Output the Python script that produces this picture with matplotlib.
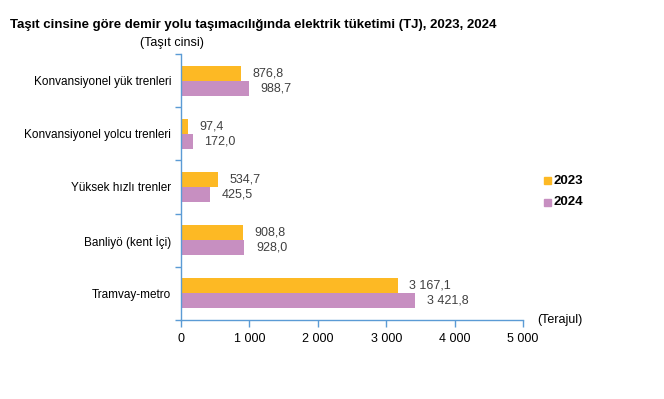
import matplotlib
matplotlib.use("Agg")
import matplotlib.pyplot as plt
import matplotlib.patches as mpatches
import numpy as np

categories = ["Konvansiyonel yük trenleri", "Konvansiyonel yolcu trenleri",
              "Yüksek hızlı trenler", "Banliyö (kent İçi)", "Tramvay-metro"]
v2023 = [876.8, 97.4, 534.7, 908.8, 3167.1]
v2024 = [988.7, 172.0, 425.5, 928.0, 3421.8]
labels2023 = ["876,8", "97,4", "534,7", "908,8", "3 167,1"]
labels2024 = ["988,7", "172,0", "425,5", "928,0", "3 421,8"]
xticks = [0, 1000, 2000, 3000, 4000, 5000]
xticklabels = ["0", "1 000", "2 000", "3 000", "4 000", "5 000"]

plt.rcParams['font.family'] = ['Liberation Sans', 'DejaVu Sans']
c23 = "#FDB924"
c24 = "#C78FC1"
axis_col = "#5B9BD5"
txt = "#404040"

fig = plt.figure(figsize=(6.64, 3.99), dpi=100)
ax = fig.add_axes([181/664, 1-320/399, 342/664, 266/399])

n = len(categories)
y = np.arange(n)
h = 0.283
ax.barh(y - h/2, v2023, height=h, color=c23, label="2023")
ax.barh(y + h/2, v2024, height=h, color=c24, label="2024")
for i in range(n):
    ax.text(v2023[i] + 170, y[i] - h/2, labels2023[i], va="center", ha="left", fontsize=9, color=txt)
    ax.text(v2024[i] + 170, y[i] + h/2, labels2024[i], va="center", ha="left", fontsize=9, color=txt)

ax.set_ylim(n - 0.5, -0.5)
ax.set_xlim(0, 5000)
ax.set_yticks(y)
ax.set_yticklabels(categories, fontsize=8.5, color="black")
ax.tick_params(axis="y", length=0, pad=7)
ax.set_yticks(np.arange(-0.5, n, 1), minor=True)
ax.tick_params(axis="y", which="minor", length=4, color=axis_col, width=1)
ax.set_xticks(xticks)
ax.set_xticklabels(xticklabels, fontsize=9, color="black")
ax.tick_params(axis="x", length=5, color=axis_col, width=1, pad=4)
for s in ["top", "right"]:
    ax.spines[s].set_visible(False)
for s in ["left", "bottom"]:
    ax.spines[s].set_color(axis_col)
    ax.spines[s].set_linewidth(1)

fig.text(10/664, 1-25/399, "Taşıt cinsine göre demir yolu taşımacılığında elektrik tüketimi (TJ), 2023, 2024",
         fontsize=9.5, fontweight="bold", va="center", ha="left")
fig.text(172/664, 1-43/399, "(Taşıt cinsi)", fontsize=9, va="center", ha="center")
fig.text(537/664, 1-320/399, "(Terajul)", fontsize=9, va="center", ha="left")

# legend
for yy, col, lab in [(181, c23, "2023"), (202, c24, "2024")]:
    fig.patches.append(mpatches.Rectangle((544/664, 1-(yy+3.5)/399), 7/664, 7/399,
                                          transform=fig.transFigure, color=col))
    fig.text(554/664, 1-yy/399, lab, fontsize=9.5, fontweight="bold", va="center", ha="left")

fig.savefig("out.png", dpi=100)
